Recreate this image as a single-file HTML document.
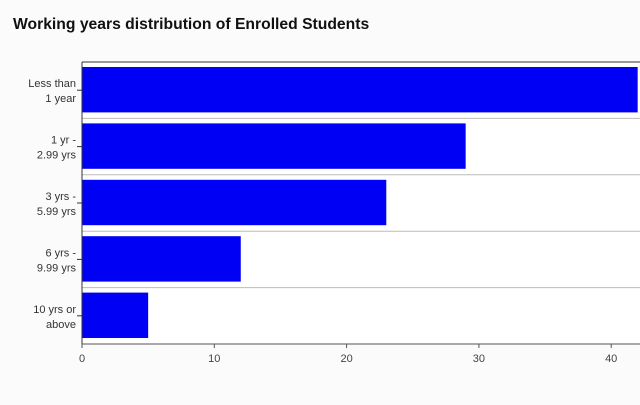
<!DOCTYPE html>
<html><head><meta charset="utf-8"><style>
body{margin:0;width:640px;height:400px;background:#fbfbfb;overflow:hidden;font-family:"Liberation Sans",Arial,sans-serif}
</style></head><body>
<svg id="chart" width="640" height="400" xmlns="http://www.w3.org/2000/svg">
<rect x="0" y="0" width="640" height="400" fill="#fbfbfb"/>
<text x="13" y="29" font-size="15.7" font-weight="bold" fill="#111">Working years distribution of Enrolled Students</text>
<rect x="82" y="62" width="560" height="282" fill="#fff"/>
<g id="grid"></g><g id="bars"></g><g id="yaxis"></g><g id="xaxis"></g>
</svg>
<script>
const categories=[["Less than","1 year"],["1 yr -","2.99 yrs"],["3 yrs -","5.99 yrs"],["6 yrs -","9.99 yrs"],["10 yrs or","above"]];
const values=[42,29,23,12,5];
const xTicks=[0,10,20,30,40];
const NS="http://www.w3.org/2000/svg";
const L=82,T=62,B=344,R=640,pxPerUnit=13.23;
const x=v=>L+v*pxPerUnit;
const band=(B-T)/categories.length;
const y=i=>T+i*band;
function mk(tag,attrs,parent){const e=document.createElementNS(NS,tag);for(const k in attrs)e.setAttribute(k,attrs[k]);document.getElementById(parent).appendChild(e);return e;}
for(let i=1;i<categories.length;i++){
  const g=mk('line',{x1:L,x2:R,y1:y(i),y2:y(i),stroke:'#bbb','stroke-width':1},'grid');
  
  
}
values.forEach((v,i)=>{
  const w=Math.min(x(v),R)-L;
  const r=mk('rect',{x:L,y:y(i)+5,width:w,height:band-11,fill:'#0000f5'},'bars');
  
  
  const t=mk('line',{x1:L-5,x2:L,y1:y(i)+band/2,y2:y(i)+band/2,stroke:'#333'},'yaxis');
  
  
  const lb=mk('text',{x:L-6,y:y(i)+band/2-3,'text-anchor':'end','font-size':11,fill:'#333'},'yaxis');
  
  
  const s1=document.createElementNS(NS,'tspan');s1.setAttribute('x',L-6);s1.textContent=categories[i][0];lb.appendChild(s1);
  const s2=document.createElementNS(NS,'tspan');s2.setAttribute('x',L-6);s2.setAttribute('dy',15);s2.textContent=categories[i][1];lb.appendChild(s2);
});
const topBorder=mk('line',{x1:L,x2:R,y1:T,y2:T,stroke:'#333'},'xaxis');


const ya=mk('line',{x1:L,x2:L,y1:T,y2:B,stroke:'#333'},'yaxis');


const xa=mk('line',{x1:L,x2:R,y1:B,y2:B,stroke:'#555'},'xaxis');


xTicks.forEach(v=>{
  const t=mk('line',{x1:x(v),x2:x(v),y1:B,y2:B+4,stroke:'#555'},'xaxis');
  
  
  const lb=mk('text',{x:x(v),y:B+18,'text-anchor':'middle','font-size':11,fill:'#444'},'xaxis');
  
  
  lb.textContent=v;
});
</script>
</body></html>
